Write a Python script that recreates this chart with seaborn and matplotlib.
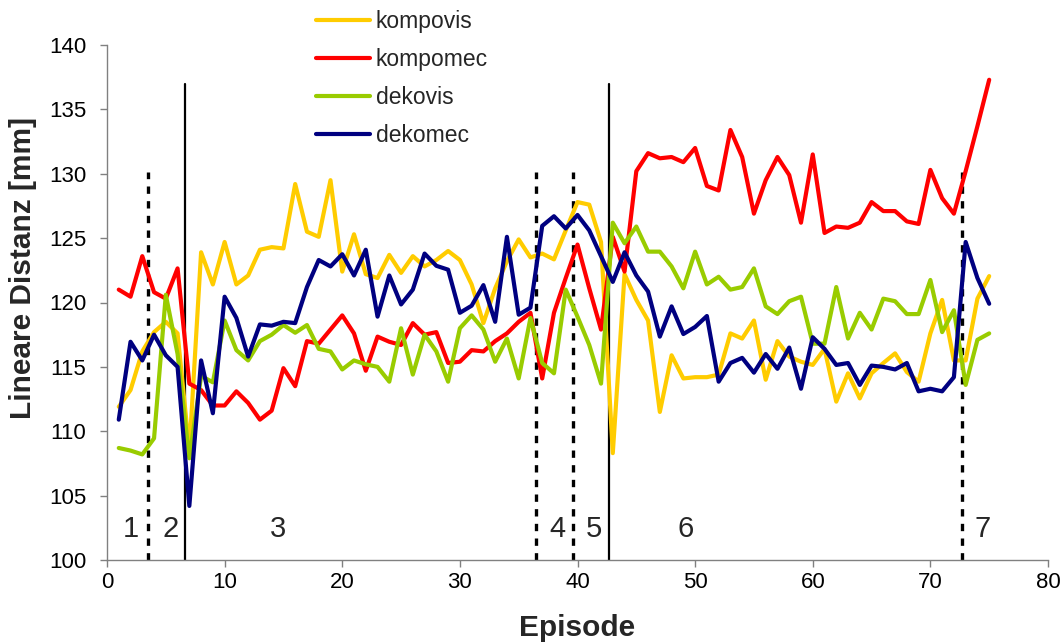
import numpy as np
import pandas as pd
import matplotlib
matplotlib.use("Agg")
import matplotlib.pyplot as plt
import seaborn as sns

episodes = list(range(1, 76))

kompovis = [111.9, 113.2, 116.2, 117.7, 118.5, 117.6, 108.5, 123.9, 121.4, 124.7,
            121.4, 122.1, 124.1, 124.3, 124.2, 129.2, 125.5, 125.1, 129.5, 122.4,
            125.3, 122.2, 121.9, 123.7, 122.3, 123.6, 122.8, 123.3, 124.0, 123.3,
            121.4, 118.4, 121.1, 123.2, 124.9, 123.5, 123.8, 123.35, 125.6, 127.8,
            127.6, 124.7, 108.3, 122.2, 120.2, 118.6, 111.5, 115.9, 114.1, 114.2,
            114.2, 114.4, 117.6, 117.2, 118.6, 114.0, 117.0, 115.8, 115.4, 115.15,
            116.4, 112.3, 114.5, 112.55, 114.5, 115.3, 116.05, 114.6, 113.85, 117.6,
            120.2, 115.5, 115.5, 120.3, 122.05]

kompomec = [121.0, 120.45, 123.6, 120.8, 120.3, 122.65, 113.7, 113.2, 112.0, 112.0,
            113.1, 112.2, 110.9, 111.6, 114.9, 113.5, 117.0, 116.8, 117.9, 119.0,
            117.6, 114.7, 117.35, 116.95, 116.7, 118.4, 117.5, 117.7, 115.3, 115.4,
            116.3, 116.2, 117.0, 117.6, 118.5, 119.2, 114.1, 119.2, 121.9, 124.5,
            121.1, 117.9, 125.1, 122.4, 130.2, 131.6, 131.2, 131.3, 130.9, 132.0,
            129.05, 128.7, 133.4, 131.3, 126.9, 129.5, 131.3, 129.9, 126.2, 131.5,
            125.4, 125.9, 125.8, 126.2, 127.8, 127.1, 127.1, 126.3, 126.1, 130.3,
            128.1, 126.9, 130.2, 133.7, 137.3]

dekovis = [108.7, 108.5, 108.2, 109.45, 120.6, 116.0, 107.9, 114.3, 113.8, 118.6,
           116.3, 115.5, 117.0, 117.5, 118.25, 117.65, 118.25, 116.4, 116.2, 114.8,
           115.5, 115.2, 115.0, 113.85, 118.0, 114.4, 117.5, 116.2, 113.85, 118.0,
           119.0, 117.9, 115.4, 117.2, 114.1, 118.8, 115.3, 114.5, 121.0, 118.9,
           116.7, 113.7, 126.2, 124.6, 125.9, 123.95, 123.95, 122.8, 121.1, 123.95,
           121.4, 122.0, 121.0, 121.2, 122.65, 119.7, 119.1, 120.1, 120.45, 116.8,
           116.8, 121.2, 117.2, 119.2, 117.9, 120.3, 120.1, 119.1, 119.1, 121.75,
           117.7, 119.4, 113.6, 117.1, 117.6]

dekomec = [110.9, 116.95, 115.5, 117.5, 115.9, 115.0, 104.2, 115.5, 111.4, 120.45,
           118.8, 115.8, 118.3, 118.2, 118.5, 118.4, 121.2, 123.3, 122.8, 123.75,
           122.1, 124.1, 118.9, 122.1, 119.85, 121.0, 123.8, 122.85, 122.55, 119.2,
           119.75, 121.35, 118.5, 125.1, 119.05, 119.6, 125.95, 126.7, 125.75, 126.8,
           125.6, 123.6, 121.6, 123.9, 122.1, 120.85, 117.35, 119.7, 117.55, 118.1,
           118.95, 113.85, 115.3, 115.7, 114.55, 116.0, 114.85, 116.5, 113.3, 117.3,
           116.4, 115.15, 115.3, 113.6, 115.1, 115.0, 114.8, 115.3, 113.1, 113.3,
           113.1, 114.2, 124.7, 121.9, 119.9]

series_names = ["kompovis", "kompomec", "dekovis", "dekomec"]
colors = ["#FFCC00", "#FF0000", "#99CC00", "#000080"]

dotted_lines = [3.5, 36.5, 39.6, 72.7]
solid_lines = [6.6, 42.7]
phase_labels = ["1", "2", "3", "4", "5", "6", "7"]
phase_x = [2.0, 5.4, 14.5, 38.3, 41.4, 49.2, 74.4]

df = pd.DataFrame({
    "Episode": episodes * 4,
    "value": kompovis + kompomec + dekovis + dekomec,
    "series": sum([[n] * len(episodes) for n in series_names], []),
})

sns.set_style("ticks")
plt.rcParams["font.family"] = ["Liberation Sans", "DejaVu Sans"]

fig = plt.figure(figsize=(10.64, 6.42), dpi=100)
ax = fig.add_axes([107 / 1064, 1 - 560 / 642, (1048 - 107) / 1064, (560 - 45) / 642])

sns.lineplot(data=df, x="Episode", y="value", hue="series", hue_order=series_names,
             palette=colors, linewidth=3, ax=ax, legend=True)

for xv in dotted_lines:
    ax.plot([xv, xv], [100, 130.1], color="black", lw=2.4, ls=(0, (2.2, 2.2)), zorder=1)
for xv in solid_lines:
    ax.plot([xv, xv], [100, 137.0], color="black", lw=1.6, zorder=1)

for lab, xv in zip(phase_labels, phase_x):
    ax.text(xv, 102.4, lab, fontsize=21, ha="center", va="center")

ax.set_xlim(0, 80)
ax.set_ylim(100, 140)
ax.set_xticks(np.arange(0, 81, 10))
ax.set_yticks(np.arange(100, 141, 5))
ax.tick_params(axis="both", labelsize=16, colors="black", length=5, width=1,
               direction="out")
ax.tick_params(axis="both", color="#808080")
ax.tick_params(axis="y", pad=10)
for s in ["top", "right"]:
    ax.spines[s].set_visible(False)
for s in ["left", "bottom"]:
    ax.spines[s].set_color("#808080")
    ax.spines[s].set_linewidth(1)

ax.set_xlabel("Episode", fontsize=21.5, fontweight="bold")
ax.set_ylabel("Lineare Distanz [mm]", fontsize=21.5, fontweight="bold")
ax.xaxis.set_label_coords(0.5, -(628 - 560) / 515, transform=ax.transAxes)
ax.yaxis.set_label_coords(-(107 - 23) / 941, (560 - 268) / 515, transform=ax.transAxes)
ax.xaxis.label.set_va("center")
ax.yaxis.label.set_va("center")

handles, labels = ax.get_legend_handles_labels()
leg = ax.legend(handles, labels, loc="upper left", frameon=False, fontsize=16.5,
                bbox_to_anchor=(316 / 1064, 1 - 10 / 642), bbox_transform=fig.transFigure,
                borderpad=0, borderaxespad=0, handlelength=2.35, handletextpad=0.25,
                labelspacing=0.66)
for line in leg.get_lines():
    line.set_linewidth(3)

fig.savefig("out.png", dpi=100)
